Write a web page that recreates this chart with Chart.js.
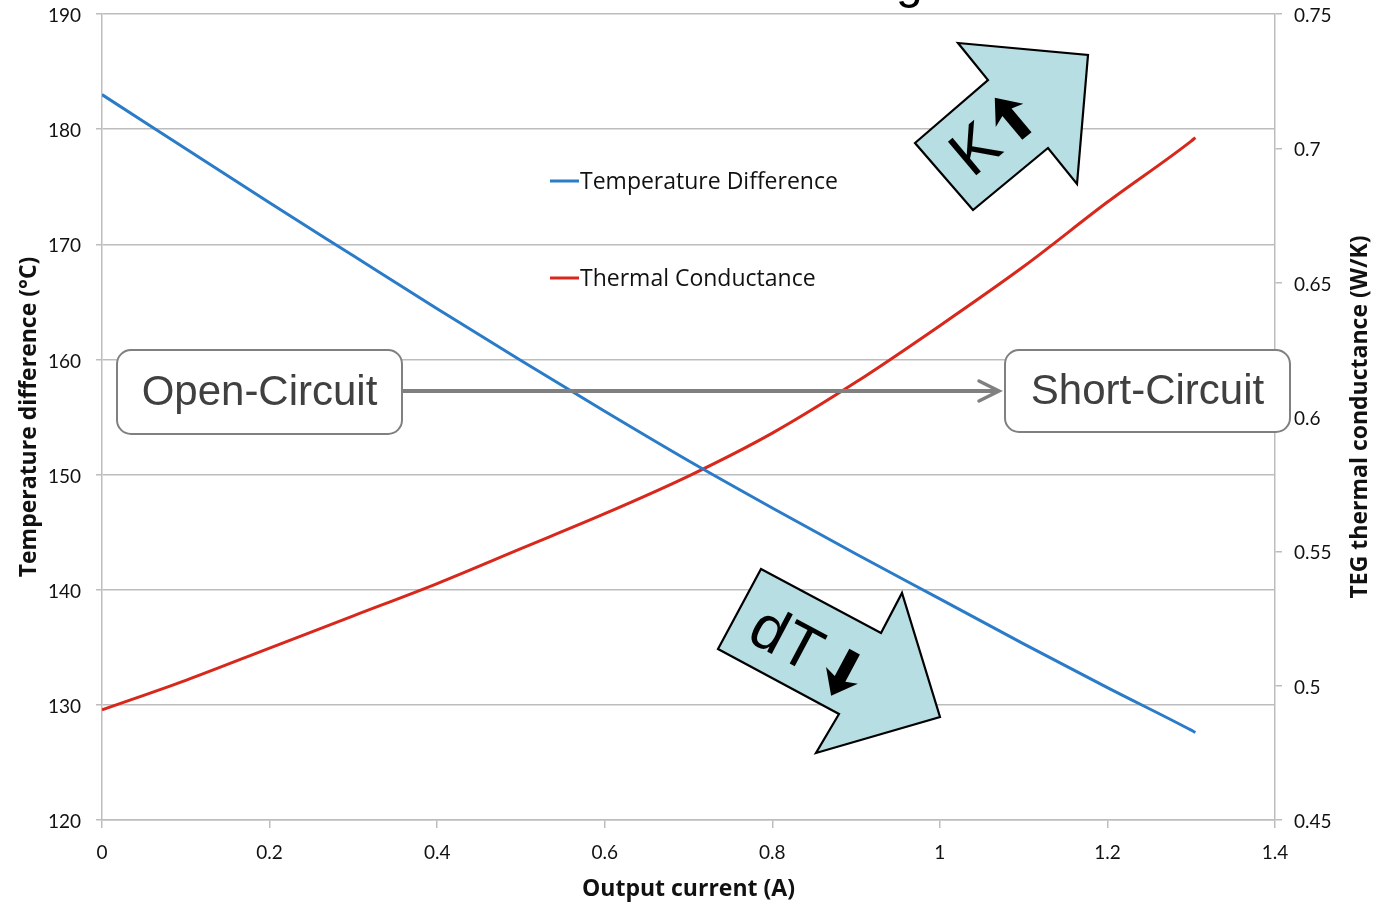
<!DOCTYPE html>
<html>
<head>
<meta charset="utf-8">
<title>TEG temperature difference and thermal conductance</title>
<script src="https://cdn.jsdelivr.net/npm/chart.js@4.4.1/dist/chart.umd.min.js"></script>
<style>
  html, body { margin: 0; padding: 0; background: #fff; }
  #wrap { width: 1373px; height: 903px; }
</style>
</head>
<body>
<div id="wrap"><canvas id="chart" width="1373" height="903"></canvas></div>
<script>
// Output current sweep (A) and the two measured series
const currents = [0, 0.1, 0.2, 0.3, 0.4, 0.5, 0.6, 0.7, 0.8, 0.9, 1.0, 1.1, 1.2, 1.3, 1.305];
const tempDiff = [183.0, 178.3, 173.6, 169.0, 164.4, 159.9, 155.5, 151.2, 147.1, 143.1, 139.2, 135.3, 131.5, 127.8, 127.6];
const conductance = [0.491, 0.502, 0.514, 0.526, 0.538, 0.551, 0.564, 0.578, 0.594, 0.613, 0.634, 0.656, 0.680, 0.7027, 0.704];

const seriesNames = ["Temperature Difference", "Thermal Conductance"];
const seriesColors = ["#2a7bc8", "#d8281b"];

// Axis ticks
const xTicks = [0, 0.2, 0.4, 0.6, 0.8, 1, 1.2, 1.4];
const tempTicks = [120, 130, 140, 150, 160, 170, 180, 190];
const condTicks = [0.45, 0.5, 0.55, 0.6, 0.65, 0.7, 0.75];

const gridColor = "#bdbdbd";
const textColor = "#111";
const titleFont = "'Open Sans', Lato, sans-serif";

Chart.defaults.font.family = "Lato, 'Open Sans', sans-serif";

const pairs = (ys) => currents.map((x, i) => ({ x: x, y: ys[i] }));
const fixedTicks = (list) => (scale) => {
  scale.ticks = list.map((v) => ({ value: v }));
};
// pin axis boxes so the plot area sits where it should
const fitWidth = (w) => (s) => {
  s.width = w;
  s.paddingTop = 0;
  s.paddingBottom = 0;
};
const fitHeight = (h) => (s) => {
  s.height = h;
  s.paddingLeft = 0;
  s.paddingRight = 0;
};

// Rounded rectangle with text, for the circuit state boxes
function labelBox(ctx, x, y, w, h, text) {
  const r = 14;
  ctx.beginPath();
  ctx.moveTo(x + r, y);
  ctx.arcTo(x + w, y, x + w, y + h, r);
  ctx.arcTo(x + w, y + h, x, y + h, r);
  ctx.arcTo(x, y + h, x, y, r);
  ctx.arcTo(x, y, x + w, y, r);
  ctx.closePath();
  ctx.fillStyle = "#fff";
  ctx.fill();
  ctx.lineWidth = 2;
  ctx.strokeStyle = "#808080";
  ctx.stroke();
  ctx.fillStyle = "#404040";
  ctx.font = "42px 'Liberation Sans', Arial, sans-serif";
  ctx.textAlign = "center";
  ctx.textBaseline = "middle";
  ctx.fillText(text, x + w / 2, y + h / 2 + 1);
}

// Block arrow outline
function blockArrow(ctx, pts) {
  ctx.beginPath();
  pts.forEach((p, i) => (i ? ctx.lineTo(p[0], p[1]) : ctx.moveTo(p[0], p[1])));
  ctx.closePath();
  ctx.fillStyle = "#b7dee2";
  ctx.fill();
  ctx.lineWidth = 2.2;
  ctx.lineJoin = "miter";
  ctx.strokeStyle = "#000";
  ctx.stroke();
}

// Rotated symbol label: letters followed by a heavy arrow (up = -1, down = 1)
function trendLabel(ctx, cx, cy, angle, text, size, dir, gap) {
  ctx.save();
  ctx.translate(cx, cy);
  ctx.rotate(angle);
  ctx.fillStyle = "#000";
  ctx.font = size + "px 'Liberation Sans', Arial, sans-serif";
  ctx.textAlign = "center";
  ctx.textBaseline = "middle";
  ctx.fillText(text, 0, 2);
  const pts = [[0, -28], [18, -5], [6, -9], [6, 22], [-6, 22], [-6, -9], [-18, -5]];
  ctx.beginPath();
  pts.forEach((p, i) => {
    const px = gap + p[0];
    const py = p[1] * -dir;
    i ? ctx.lineTo(px, py) : ctx.moveTo(px, py);
  });
  ctx.closePath();
  ctx.fill();
  ctx.restore();
}

const overlays = {
  id: "overlays",
  beforeDraw(chart) {
    const ctx = chart.ctx;
    ctx.save();
    ctx.fillStyle = "#fff";
    ctx.fillRect(0, 0, chart.width, chart.height);
    ctx.restore();
  },
  afterDraw(chart) {
    const ctx = chart.ctx;
    ctx.save();

    // right axis title, reading upwards
    ctx.fillStyle = textColor;
    ctx.font = "bold 23px " + titleFont;
    ctx.textAlign = "center";
    ctx.textBaseline = "middle";
    ctx.save();
    ctx.translate(1360, 417);
    ctx.rotate(-Math.PI / 2);
    ctx.fillText("TEG thermal conductance (W/K)", 0, 0);
    ctx.restore();

    // legend inside the plot
    const legendY = [181, 278];
    chart.data.datasets.forEach((ds, i) => {
      ctx.strokeStyle = ds.borderColor;
      ctx.lineWidth = 3;
      ctx.beginPath();
      ctx.moveTo(550, legendY[i]);
      ctx.lineTo(579, legendY[i]);
      ctx.stroke();
      ctx.fillStyle = textColor;
      ctx.font = "23px " + titleFont;
      ctx.textAlign = "left";
      ctx.fillText(ds.label, 580, legendY[i] + 1);
    });

    // open to short circuit connector
    ctx.strokeStyle = "#808080";
    ctx.lineWidth = 4;
    ctx.beginPath();
    ctx.moveTo(402, 391);
    ctx.lineTo(998, 391);
    ctx.stroke();
    ctx.lineWidth = 3.5;
    ctx.lineCap = "round";
    ctx.beginPath();
    ctx.moveTo(979, 381);
    ctx.lineTo(999, 391);
    ctx.lineTo(979, 401);
    ctx.stroke();
    ctx.lineCap = "butt";

    labelBox(ctx, 117, 350, 285, 84, "Open-Circuit");
    labelBox(ctx, 1005, 350, 285, 82, "Short-Circuit");

    // conductance rises, temperature difference falls
    blockArrow(ctx, [[915, 143], [988, 80], [958, 43], [1088, 55], [1077, 184], [1048, 148], [973, 210]]);
    trendLabel(ctx, 976, 150, -40 * Math.PI / 180, "K", 64, -1, 48);

    blockArrow(ctx, [[761, 569], [881, 633], [902, 593], [940, 717], [816, 753], [839, 714], [718, 649]]);
    trendLabel(ctx, 786, 640, 28 * Math.PI / 180, "dT", 62, 1, 66);

    // tail of the slide heading above the plot
    ctx.fillStyle = "#000";
    ctx.font = "48px 'Liberation Sans', Arial, sans-serif";
    ctx.textAlign = "left";
    ctx.textBaseline = "alphabetic";
    ctx.fillText("g", 896, -2);

    ctx.restore();
  }
};

new Chart(document.getElementById("chart"), {
  type: "line",
  data: {
    datasets: [
      {
        label: seriesNames[0],
        data: pairs(tempDiff),
        yAxisID: "y",
        borderColor: seriesColors[0],
        backgroundColor: seriesColors[0],
        borderWidth: 3,
        pointRadius: 0,
        cubicInterpolationMode: "monotone"
      },
      {
        label: seriesNames[1],
        data: pairs(conductance),
        yAxisID: "y1",
        borderColor: seriesColors[1],
        backgroundColor: seriesColors[1],
        borderWidth: 3,
        pointRadius: 0,
        cubicInterpolationMode: "monotone"
      }
    ]
  },
  options: {
    responsive: false,
    animation: false,
    layout: { padding: { top: 14, left: 0, right: 0, bottom: 0 } },
    plugins: {
      legend: { display: false },
      tooltip: { enabled: false }
    },
    scales: {
      x: {
        type: "linear",
        min: 0,
        max: 1.4,
        afterBuildTicks: fixedTicks(xTicks),
        afterFit: fitHeight(83),
        ticks: { color: textColor, font: { size: 19 }, padding: 13, maxRotation: 0, callback: (v) => String(v) },
        grid: { drawOnChartArea: false, tickLength: 8, color: gridColor, lineWidth: 1.5 },
        border: { color: gridColor, width: 1.5 },
        title: {
          display: true,
          text: "Output current (A)",
          color: textColor,
          font: { family: titleFont, size: 23, weight: "bold" },
          padding: { top: 0, bottom: 0 }
        }
      },
      y: {
        position: "left",
        min: 120,
        max: 190,
        afterBuildTicks: fixedTicks(tempTicks),
        afterFit: fitWidth(102),
        ticks: { color: textColor, font: { size: 19 }, padding: 15, labelOffset: 2, callback: (v) => String(v) },
        grid: { color: gridColor, lineWidth: 1.5, tickLength: 6 },
        border: { color: gridColor, width: 1.5 },
        title: {
          display: true,
          text: "Temperature difference (°C)",
          color: textColor,
          font: { family: titleFont, size: 23, weight: "bold" },
          padding: { top: 16, bottom: 0 }
        }
      },
      y1: {
        position: "right",
        min: 0.45,
        max: 0.75,
        afterBuildTicks: fixedTicks(condTicks),
        afterFit: fitWidth(98),
        ticks: { color: textColor, font: { size: 19 }, padding: 12, labelOffset: 2, callback: (v) => String(v) },
        grid: { drawOnChartArea: false, color: gridColor, lineWidth: 1.5, tickLength: 7 },
        border: { color: gridColor, width: 1.5 }
      }
    }
  },
  plugins: [overlays]
});
</script>
</body>
</html>
